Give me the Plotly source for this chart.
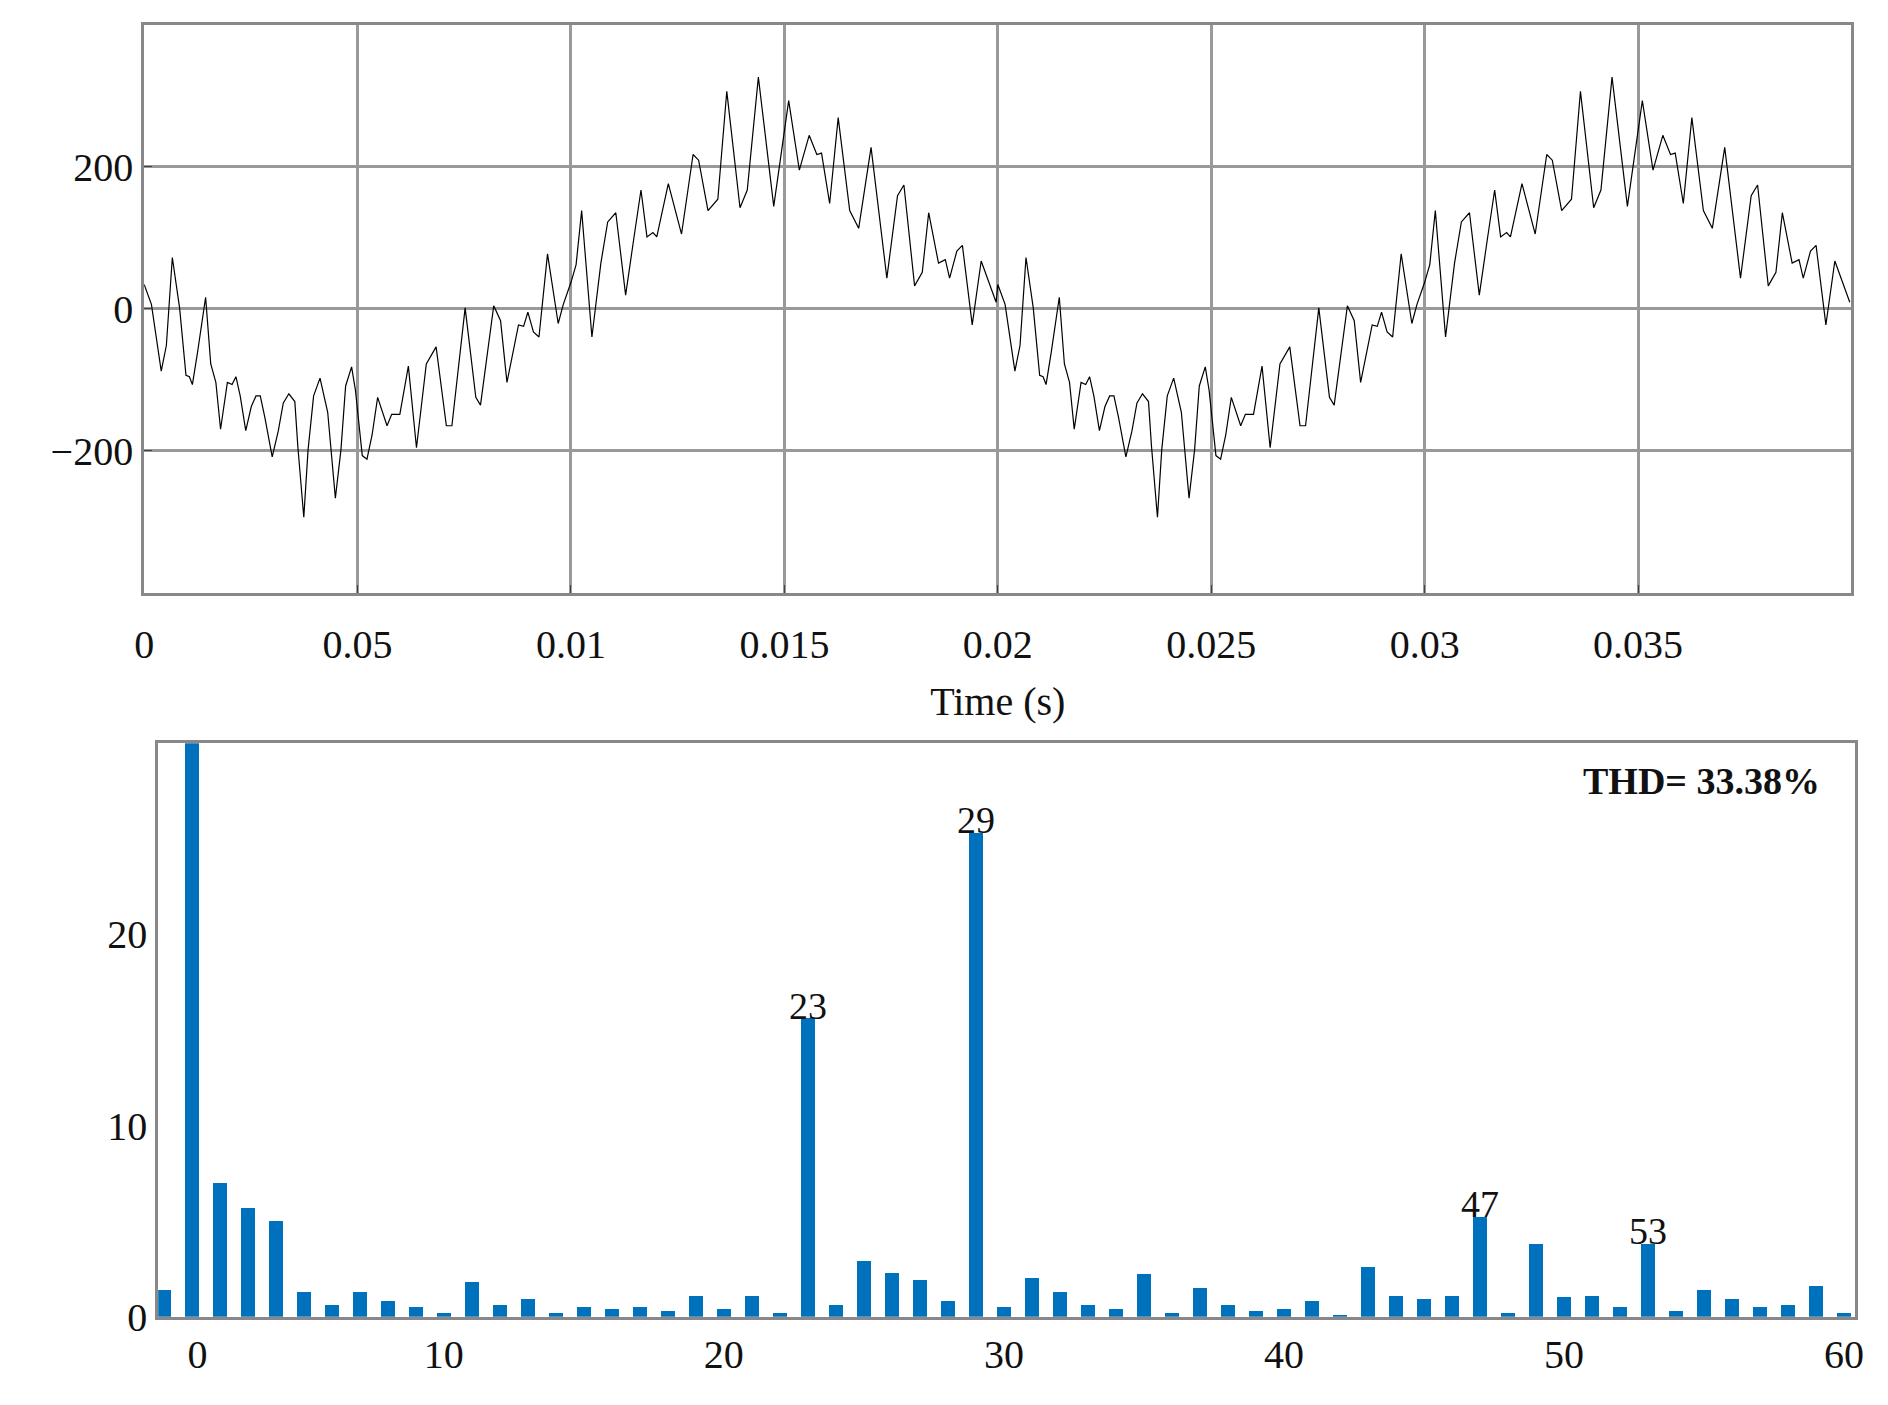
import plotly.graph_objects as go

# one period of waveform (time ms, value); repeats in second period
t_ms = [0.0,0.17,0.40,0.52,0.66,0.83,0.98,1.06,1.13,1.25,1.44,1.56,1.68,1.79,1.95,2.06,2.15,2.25,2.38,2.51,
        2.62,2.72,2.83,3.0,3.14,3.26,3.39,3.53,3.6,3.74,3.84,3.97,4.12,4.30,4.48,4.61,4.72,4.86,4.95,5.11,
        5.22,5.34,5.47,5.69,5.80,5.99,6.19,6.38,6.61,6.84,7.08,7.21,7.52,7.77,7.88,8.19,8.35,8.50,8.77,8.89,
        8.99,9.12,9.25,9.45,9.70,9.82,10.0,10.12,10.25,10.49,10.70,10.86,11.05,11.28,11.47,11.64,11.78,11.92,12.01,12.28,
        12.59,12.86,12.99,13.21,13.44,13.65,13.96,14.13,14.39,14.75,15.10,15.35,15.58,15.76,15.87,16.06,16.26,16.53,16.74,17.03,
        17.40,17.65,17.80,18.05,18.23,18.38,18.61,18.77,18.87,19.04,19.17,19.40,19.61,19.96]
v_period = [34,6,-88,-52,72,1,-94,-96,-107,-62,16,-78,-104,-170,-104,-107,-96,-123,-172,-138,
            -123,-123,-154,-209,-173,-133,-120,-131,-194,-294,-199,-123,-98,-146,-267,-199,-109,-82,-115,-207,
            -212,-178,-125,-165,-149,-149,-81,-196,-78,-54,-165,-165,1,-125,-136,4,-17,-104,-23,-25,
            -5,-33,-40,77,-21,6,37,62,138,-40,64,122,135,19,98,167,101,107,101,176,
            105,217,209,138,154,306,142,167,326,144,293,195,244,217,219,148,269,138,113,227,
            43,159,174,32,51,135,64,69,43,81,89,-23,67,9]

harm = list(range(0, 61))
mag = [1.4,100,7.0,5.7,5.0,1.3,0.6,1.3,0.8,0.5,0.2,1.8,0.6,0.9,0.2,0.5,0.4,0.5,0.3,1.1,
       0.4,1.1,0.2,15.6,0.6,2.9,2.3,1.9,0.8,25.3,0.5,2.0,1.3,0.6,0.4,2.2,0.2,1.5,0.6,0.3,
       0.4,0.8,0.1,2.6,1.1,0.9,1.1,5.2,0.2,3.8,1.0,1.1,0.5,3.8,0.3,1.4,0.9,0.5,0.6,1.6,0.2]
top_tickvals = [0,0.005,0.01,0.015,0.02,0.025,0.03,0.035]
top_ticktext = ["0","0.05","0.01","0.015","0.02","0.025","0.03","0.035"]
bot_tickvals = [1.2,10,20,30,40,50,60]
bot_ticktext = ["0","10","20","30","40","50","60"]
labels = [23,29,47,53]

t = [x/1000 for x in t_ms] + [x/1000 + 0.02 for x in t_ms]
v = v_period + v_period

font = dict(family="Liberation Serif", size=40, color="#111")
fig = go.Figure()
fig.add_trace(go.Scatter(x=t, y=v, mode="lines", line=dict(color="black", width=1.2),
                         xaxis="x", yaxis="y", showlegend=False))
fig.add_trace(go.Bar(x=harm, y=mag, width=0.5, marker=dict(color="#0072BD", line=dict(width=0)),
                     xaxis="x2", yaxis="y2", showlegend=False))
for h in labels:
    fig.add_annotation(x=h, y=mag[h], text=str(h), showarrow=False, yanchor="bottom",
                       xref="x2", yref="y2", font=dict(family="Liberation Serif", size=38, color="#111"), yshift=-10)
fig.add_annotation(x=0.965, y=0.457, xref="paper", yref="paper", xanchor="right", yanchor="top",
                   text="<b>THD= 33.38%</b>", showarrow=False, font=dict(family="Liberation Serif", size=38, color="#111"))

fig.update_layout(
    width=1888, height=1405, margin=dict(l=0, r=0, t=0, b=0),
    plot_bgcolor="white", paper_bgcolor="white", font=font, bargap=0,
    xaxis=dict(domain=[0.0675, 0.981], range=[0, 0.04], tickvals=top_tickvals, ticktext=top_ticktext,
               showgrid=True, gridcolor="#999", gridwidth=3, zeroline=False,
               showline=True, mirror=True, linecolor="#888", linewidth=3,
               ticks="inside", ticklen=8, tickcolor="#444", ticklabelstandoff=14,
               title=dict(text="Time (s)", font=font, standoff=22), anchor="y"),
    yaxis=dict(domain=[0.577, 0.988], range=[-400, 400], tickvals=[-200, 0, 200],
               ticktext=["\u2212200", "0", "200"],
               showgrid=True, gridcolor="#999", gridwidth=3, zeroline=False,
               showline=True, mirror=True, linecolor="#888", linewidth=3,
               ticks="inside", ticklen=8, tickcolor="#444", anchor="x"),
    xaxis2=dict(domain=[0.075, 0.983], range=[-0.2, 60.4], tickvals=bot_tickvals, ticktext=bot_ticktext,
                showgrid=False, zeroline=False, showline=True, mirror=True, linecolor="#888", linewidth=3,
                ticks="", anchor="y2"),
    yaxis2=dict(domain=[0.053, 0.468], range=[0, 30], tickvals=[0, 10, 20],
                showgrid=False, zeroline=False, showline=True, mirror=True, linecolor="#888", linewidth=3,
                ticks="", anchor="x2"),
)
fig.write_html("out.html")
